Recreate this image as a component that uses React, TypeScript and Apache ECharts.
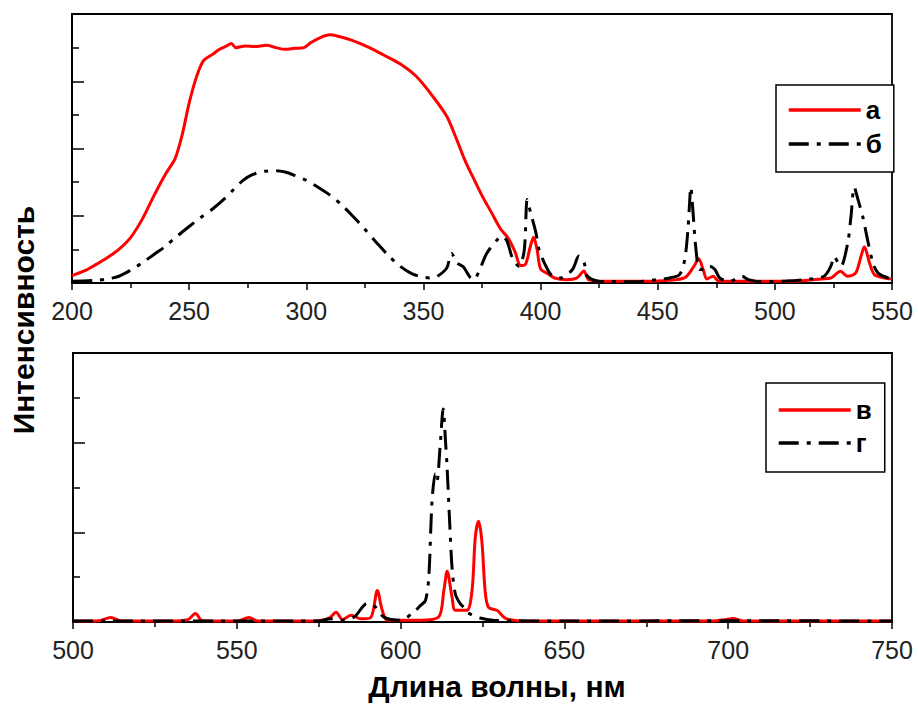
import React, { useEffect, useRef } from "react";
import * as echarts from "echarts";

// Top panel (200–550 nm), curve "а" (red)
const topAX = [200, 205, 210, 215, 220, 225, 230, 235, 240, 244, 247, 250, 253, 256, 260, 263, 266, 268, 270, 274, 278, 283, 287, 291, 295, 299, 302, 306, 310, 314, 319, 326, 333, 340, 347, 354, 360, 364, 368, 371, 375, 379, 383, 386, 389, 391.5, 393.5, 395.5, 397, 398.5, 400, 403, 406, 411, 415.5, 418.5, 420.5, 427, 440, 450, 458, 462, 465.5, 467.5, 469.4, 471, 473.7, 476, 490, 510, 520, 524, 528, 531, 534.5, 536.8, 538.2, 540.4, 542.5, 546.8, 550];
const topAY = [0.22, 0.35, 0.54, 0.75, 1.0, 1.35, 1.9, 2.6, 3.25, 3.7, 4.4, 5.35, 6.1, 6.6, 6.8, 6.95, 7.05, 7.12, 7.0, 7.05, 7.03, 7.07, 7.0, 6.95, 6.98, 7.0, 7.15, 7.3, 7.38, 7.33, 7.23, 7.03, 6.78, 6.52, 6.14, 5.55, 4.95, 4.3, 3.6, 3.17, 2.6, 2.1, 1.6, 1.35, 0.95, 0.52, 0.55, 1.05, 1.36, 1.0, 0.42, 0.28, 0.15, 0.1, 0.15, 0.36, 0.1, 0.05, 0.05, 0.06, 0.1, 0.18, 0.5, 0.72, 0.4, 0.12, 0.2, 0.06, 0.05, 0.06, 0.12, 0.15, 0.35, 0.2, 0.3, 0.8, 1.08, 0.6, 0.25, 0.15, 0.12];

// Top panel, curve "б" (black dash-dot)
const topBX = [200, 210, 215, 220, 225, 230, 235, 240, 245, 250, 255, 260, 265, 269, 273, 277, 282, 287, 291, 295, 300, 305, 310, 315, 320, 325, 330, 335, 340, 345, 350, 354, 357, 360, 362, 364.3, 367, 370, 371.5, 374.3, 377, 381.4, 383.6, 385.7, 388, 390.7, 393, 394.3, 395.7, 398, 399.3, 402, 405, 408.6, 413.6, 416.4, 418.6, 420, 425, 440, 450, 455, 459.3, 461.5, 462.9, 463.6, 464.1, 465.1, 466.2, 467.9, 470.1, 472.2, 474.4, 476.5, 480.8, 485.9, 488.7, 494, 505, 515, 521, 523.9, 525.3, 527, 528.2, 531.1, 532.5, 533.9, 535.4, 537.5, 539.7, 541.9, 544, 548.3, 550];
const topBY = [0.05, 0.08, 0.12, 0.2, 0.38, 0.6, 0.85, 1.1, 1.4, 1.68, 1.95, 2.2, 2.5, 2.78, 3.05, 3.22, 3.32, 3.34, 3.3, 3.2, 3.05, 2.85, 2.62, 2.33, 1.98, 1.6, 1.2, 0.82, 0.5, 0.28, 0.17, 0.15, 0.25, 0.45, 0.88, 0.6, 0.48, 0.16, 0.1, 0.45, 0.88, 1.28, 1.39, 1.24, 0.74, 0.5, 0.95, 2.48, 2.1, 1.5, 1.0, 0.54, 0.2, 0.15, 0.4, 0.8, 0.6, 0.2, 0.05, 0.04, 0.1, 0.15, 0.25, 0.69, 1.58, 2.38, 2.85, 2.08, 1.09, 0.4, 0.4, 0.5, 0.4, 0.15, 0.05, 0.2, 0.1, 0.04, 0.06, 0.12, 0.2, 0.5, 0.79, 0.6, 0.5, 1.19, 1.98, 2.85, 2.5, 1.98, 1.24, 0.59, 0.3, 0.15, 0.14];

// Bottom panel (500–750 nm), curve "в" (red)
const botVX = [500, 508, 511.5, 515, 530, 535, 537.4, 539.5, 550, 553.7, 556.5, 570, 576, 578.5, 580.3, 582.3, 584.8, 587.9, 590.9, 592.9, 594.4, 596, 606, 611.6, 613.2, 614.2, 615.7, 616.7, 620.2, 621.8, 622.8, 623.8, 624.8, 625.8, 626.8, 629.4, 632.4, 640, 695, 699, 701.5, 704.6, 750];
const botVY = [0.02, 0.03, 0.1, 0.02, 0.02, 0.05, 0.19, 0.03, 0.02, 0.1, 0.02, 0.02, 0.04, 0.1, 0.22, 0.05, 0.15, 0.07, 0.1, 0.7, 0.26, 0.04, 0.04, 0.11, 0.7, 1.13, 0.56, 0.26, 0.26, 0.7, 1.89, 2.25, 1.81, 0.7, 0.33, 0.26, 0.07, 0.02, 0.02, 0.05, 0.08, 0.02, 0.02];

// Bottom panel, curve "г" (black dash-dot)
const botGX = [500, 550, 575, 578.7, 581.8, 585.8, 589.9, 592.4, 594.9, 600, 604, 606.1, 607.6, 608.6, 609.6, 610.6, 611.1, 612.1, 613, 613.7, 614.2, 615, 615.7, 616.7, 618.2, 619.7, 620.2, 624.3, 628.3, 650, 700, 750];
const botGY = [0.02, 0.02, 0.02, 0.07, 0.04, 0.11, 0.42, 0.33, 0.11, 0.04, 0.22, 0.37, 0.48, 1.0, 2.7, 3.3, 3.15, 3.96, 4.75, 4.04, 3.44, 2.19, 1.22, 0.63, 0.41, 0.3, 0.22, 0.09, 0.04, 0.02, 0.03, 0.02];

const legendTop = ["а", "б"];
const legendBottom = ["в", "г"];
const yTitle = "Интенсивность";
const xTitle = "Длина волны, нм";

const pairs = (xs: number[], ys: number[]) => xs.map((x, i) => [x, ys[i]]);

const FONT = "'Liberation Sans', Arial, sans-serif";
const RED = "#ff0000";
const BLACK = "#000000";
const DASHDOT = [20, 8, 4, 8];

export default function App() {
  const ref = useRef<HTMLDivElement>(null);
  useEffect(() => {
    if (!ref.current) return;
    const chart = echarts.init(ref.current, undefined, { renderer: "svg" });

    const xAxisBase = (min: number, max: number, gridIndex: number) => ({
      type: "value" as const,
      gridIndex,
      min,
      max,
      interval: 50,
      axisLine: { show: true, onZero: false, lineStyle: { color: BLACK, width: 1.8 } },
      axisTick: { show: true, inside: false, length: 7, lineStyle: { color: BLACK, width: 1.5 } },
      minorTick: { show: true, splitNumber: 2, length: 5, lineStyle: { color: BLACK, width: 1.5 } },
      splitLine: { show: false },
      axisLabel: { show: true, fontSize: 25, color: "#222", fontFamily: FONT, margin: 15 },
    });
    const yAxisBase = (max: number, gridIndex: number) => ({
      type: "value" as const,
      gridIndex,
      min: 0,
      max,
      interval: 2,
      axisLine: { show: true, lineStyle: { color: BLACK, width: 1.8 } },
      axisTick: { show: true, inside: true, length: 12, lineStyle: { color: BLACK, width: 1.5 } },
      minorTick: { show: true, splitNumber: 2, length: 7, lineStyle: { color: BLACK, width: 1.5 } },
      splitLine: { show: false },
      axisLabel: { show: false },
    });

    const legendBase = {
      orient: "vertical" as const,
      itemWidth: 72,
      itemHeight: 26,
      backgroundColor: "#fff",
      borderColor: BLACK,
      borderWidth: 1.5,
      borderRadius: 0,
      selectedMode: false,
      itemStyle: { opacity: 0 },
      lineStyle: { width: 3.5, opacity: 1 },
      textStyle: { fontSize: 26, fontWeight: "bold" as const, color: BLACK, fontFamily: FONT, lineHeight: 26 },
    };

    const lineBase = {
      type: "line" as const,
      symbol: "none",
      showSymbol: false,
      smooth: 0.3,
      animation: false,
    };

    chart.setOption({
      animation: false,
      backgroundColor: "#fff",
      grid: [
        { left: 72, top: 14, width: 820, height: 269, show: true, borderColor: BLACK, borderWidth: 1.8, backgroundColor: "transparent" },
        { left: 73, top: 353, width: 819, height: 269, show: true, borderColor: BLACK, borderWidth: 1.8, backgroundColor: "transparent" },
      ],
      xAxis: [xAxisBase(200, 550, 0), xAxisBase(500, 750, 1)],
      yAxis: [yAxisBase(8, 0), yAxisBase(6, 1)],
      legend: [
        { ...legendBase, data: legendTop, left: 776, top: 85, padding: [12, 12, 15, 11], itemGap: 8 },
        { ...legendBase, data: legendBottom, left: 766, top: 383, padding: [14, 13, 16, 11], itemGap: 7 },
      ],
      series: [
        { ...lineBase, name: legendTop[0], xAxisIndex: 0, yAxisIndex: 0, data: pairs(topAX, topAY), lineStyle: { color: RED, width: 3 }, itemStyle: { color: RED }, z: 2 },
        { ...lineBase, name: legendTop[1], xAxisIndex: 0, yAxisIndex: 0, data: pairs(topBX, topBY), lineStyle: { color: BLACK, width: 3, type: DASHDOT }, itemStyle: { color: BLACK }, z: 3 },
        { ...lineBase, name: legendBottom[0], xAxisIndex: 1, yAxisIndex: 1, data: pairs(botVX, botVY), lineStyle: { color: RED, width: 3 }, itemStyle: { color: RED }, z: 2 },
        { ...lineBase, name: legendBottom[1], xAxisIndex: 1, yAxisIndex: 1, data: pairs(botGX, botGY), lineStyle: { color: BLACK, width: 3, type: DASHDOT }, itemStyle: { color: BLACK }, z: 3 },
      ],
      graphic: [
        {
          type: "text",
          x: 23,
          y: 320,
          rotation: Math.PI / 2,
          style: { text: yTitle, fontSize: 30, fontWeight: "bold", fill: BLACK, fontFamily: FONT, textAlign: "center", textVerticalAlign: "middle" },
        },
        {
          type: "text",
          x: 497,
          y: 686,
          style: { text: xTitle, fontSize: 30, fontWeight: "bold", fill: BLACK, fontFamily: FONT, textAlign: "center", textVerticalAlign: "middle" },
        },
      ],
    });
    return () => chart.dispose();
  }, []);
  return <div ref={ref} style={{ position: "fixed", left: 0, top: 0, width: 918, height: 704 }} />;
}
